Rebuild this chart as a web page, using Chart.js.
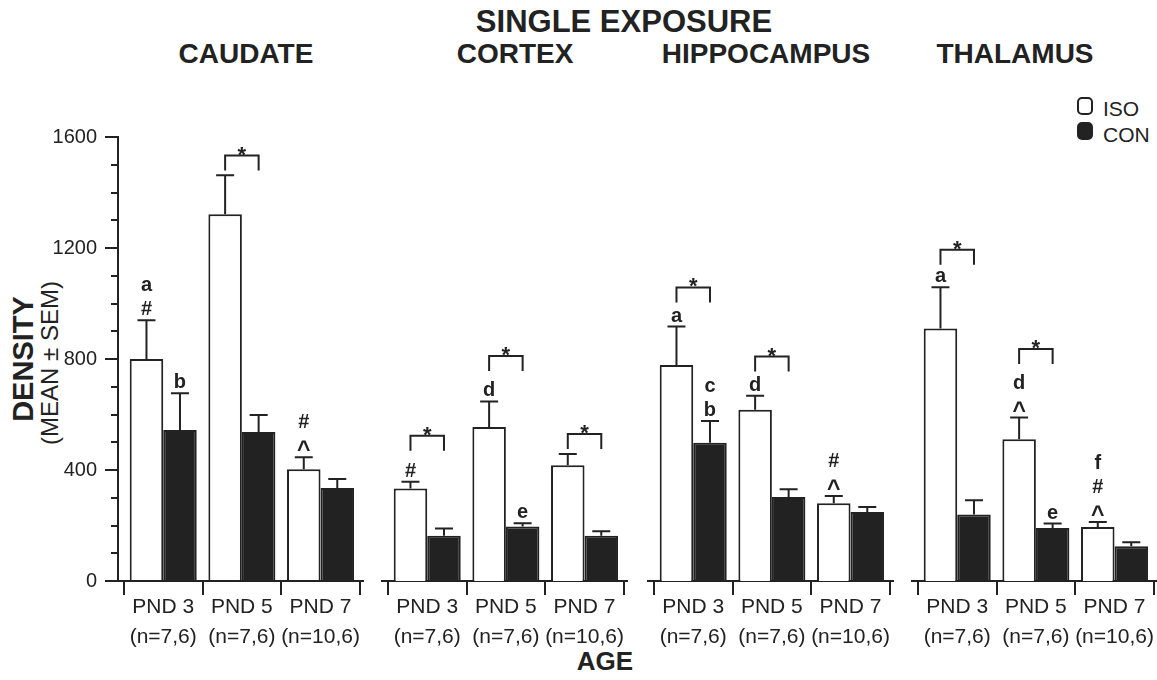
<!DOCTYPE html>
<html>
<head>
<meta charset="utf-8">
<script src="https://cdn.jsdelivr.net/npm/chart.js@4.4.1/dist/chart.umd.min.js"></script>
<style>
  html, body { margin: 0; padding: 0; background: #fff; }
  body { width: 1157px; height: 680px; position: relative; overflow: hidden;
         font-family: 'Liberation Sans', Arial, Helvetica, sans-serif; color: #222; }
  canvas { position: absolute; top: 0; }
  .t { position: absolute; transform: translate(-50%, -50%); white-space: nowrap; line-height: 1; font-weight: bold; }
  .rot { transform: translate(-50%, -50%) rotate(-90deg); }
  .box { position: absolute; box-sizing: border-box; width: 16px; height: 18px; border: 2px solid #222; border-radius: 5px; }
  .leg { position: absolute; font-size: 21px; line-height: 1; transform: translateY(-50%); }
</style>
</head>
<body>
<div class="t" style="left:624px;top:21px;font-size:31px">SINGLE EXPOSURE</div>
<div class="t" style="left:246px;top:54px;font-size:28px">CAUDATE</div>
<div class="t" style="left:515px;top:54px;font-size:28px">CORTEX</div>
<div class="t" style="left:766px;top:54px;font-size:28px">HIPPOCAMPUS</div>
<div class="t" style="left:1015px;top:54px;font-size:28px">THALAMUS</div>
<div class="t rot" style="left:23px;top:359px;font-size:29px">DENSITY</div>
<div class="t rot" style="left:50px;top:363px;font-size:24px;font-weight:normal">(MEAN ± SEM)</div>
<div class="t" style="left:605px;top:661px;font-size:26px">AGE</div>
<div class="box" style="left:1077px;top:97px;background:#fff"></div>
<div class="leg" style="left:1103px;top:108px">ISO</div>
<div class="box" style="left:1077px;top:122px;background:#222"></div>
<div class="leg" style="left:1103px;top:134px">CON</div>

<script>
// ---- data ----
var regions = ['CAUDATE', 'CORTEX', 'HIPPOCAMPUS', 'THALAMUS'];
var ages = ['PND 3', 'PND 5', 'PND 7'];
var nSizes = ['(n=7,6)', '(n=7,6)', '(n=10,6)'];

var isoMean = [[800, 1322, 403], [333, 555, 417], [778, 617, 280], [910, 511, 195]];
var isoSem  = [[140, 140, 43],   [25, 92, 41],    [139, 51, 26],   [149, 78, 18]];
var conMean = [[544, 537, 335],  [163, 196, 163], [498, 303, 249], [240, 191, 125]];
var conSem  = [[133, 61, 33],    [26, 12, 16],    [79, 28, 18],    [51, 16, 15]];

// significance letters above each bar, listed bottom -> top
var isoMarks = [[['#', 'a'], [], ['^', '#']], [['#'], ['d'], []], [['a'], ['d'], ['^', '#']], [['a'], ['^', 'd'], ['^', '#', 'f']]];
var conMarks = [[['b'], [], []], [[], ['e'], []], [['b', 'c'], [], []], [[], ['e'], []]];
// ISO vs CON bracket (*) height, null = none
var starTop = [[null, 1533, null], [523, 811, 530], [1058, 809, null], [1194, 836, null]];

var yMax = 1600, yMajor = 400, yMinor = 100;

// ---- layout ----
var INK = '#222';
var AREA_TOP = 137, AREA_BOTTOM = 581, AREA_W = 245, H = 680;
var panelLeft = [118, 382, 648, 912];
var X_MIN = -0.575, X_MAX = 2.54;
var CAP = 9;

Chart.defaults.font.family = "'Liberation Sans', Arial, Helvetica, sans-serif";
Chart.defaults.color = INK;

function glyph(ctx, s, x, base) {
  if (s === '^') {
    ctx.font = 'bold 23px ' + Chart.defaults.font.family;
    ctx.fillText(s, x, base + 5);
  } else {
    ctx.font = 'bold 20px ' + Chart.defaults.font.family;
    ctx.fillText(s, x, base);
  }
}

var panelMarks = {
  id: 'panelMarks',
  afterDatasetsDraw: function (chart, args, opts) {
    var p = opts.panel, ctx = chart.ctx, y = chart.scales.y;
    var means = [isoMean[p], conMean[p]], sems = [isoSem[p], conSem[p]], marks = [isoMarks[p], conMarks[p]];
    ctx.save();
    ctx.strokeStyle = INK; ctx.fillStyle = INK; ctx.lineWidth = 2;
    ctx.textAlign = 'center'; ctx.textBaseline = 'alphabetic';
    [0, 1].forEach(function (d) {
      chart.getDatasetMeta(d).data.forEach(function (bar, i) {
        var top = y.getPixelForValue(means[d][i] + sems[d][i]);
        ctx.beginPath();
        ctx.moveTo(bar.x, bar.y); ctx.lineTo(bar.x, top);
        ctx.moveTo(bar.x - CAP, top); ctx.lineTo(bar.x + CAP, top);
        ctx.stroke();
        marks[d][i].forEach(function (m, k) { glyph(ctx, m, bar.x, top - 5 - k * 24); });
      });
    });
    var a = chart.getDatasetMeta(0).data, b = chart.getDatasetMeta(1).data;
    starTop[p].forEach(function (v, i) {
      if (v == null) return;
      var yy = y.getPixelForValue(v);
      ctx.beginPath();
      ctx.moveTo(a[i].x, yy + 15); ctx.lineTo(a[i].x, yy); ctx.lineTo(b[i].x, yy); ctx.lineTo(b[i].x, yy + 15);
      ctx.stroke();
      ctx.font = 'bold 22px ' + Chart.defaults.font.family;
      ctx.fillText('*', (a[i].x + b[i].x) / 2, yy + 6);
    });
    // minor y ticks on the first panel
    if (p === 0) {
      var x0 = chart.chartArea.left;
      ctx.beginPath();
      for (var v = 0; v <= yMax; v += yMinor) {
        if (v % yMajor === 0) continue;
        var py = Math.round(y.getPixelForValue(v));
        ctx.moveTo(x0 - 7, py); ctx.lineTo(x0, py);
      }
      ctx.stroke();
    }
    ctx.restore();
  }
};

function makePanel(p) {
  var first = p === 0;
  var padL = first ? 0 : 10;
  var c = document.createElement('canvas');
  c.width = (first ? panelLeft[0] : padL) + AREA_W + 10;
  c.height = H;
  c.style.left = (first ? 0 : panelLeft[p] - padL) + 'px';
  document.body.appendChild(c);

  new Chart(c, {
    type: 'bar',
    data: {
      datasets: [
        { label: 'ISO', data: isoMean[p].map(function (v, i) { return { x: i, y: v }; }),
          backgroundColor: '#fff', borderColor: INK, borderWidth: 2 },
        { label: 'CON', data: conMean[p].map(function (v, i) { return { x: i, y: v }; }),
          backgroundColor: INK, borderColor: INK, borderWidth: 2 }
      ]
    },
    options: {
      responsive: false, animation: false, events: [],
      categoryPercentage: 0.852, barPercentage: 1,
      layout: { padding: { top: AREA_TOP, left: padL, right: 10, bottom: 0 } },
      plugins: { legend: { display: false }, tooltip: { enabled: false }, panelMarks: { panel: p } },
      scales: {
        x: {
          type: 'linear', min: X_MIN, max: X_MAX, offset: false,
          afterBuildTicks: function (s) { s.ticks = [0, 1, 2].map(function (v) { return { value: v }; }); },
          afterFit: function (s) { s.height = H - AREA_BOTTOM; },
          ticks: { autoSkip: false, maxRotation: 0, padding: -2, color: INK,
                   font: { size: 21, lineHeight: 1.4 },
                   callback: function (v) { return [ages[v], nSizes[v]]; } },
          grid: { drawOnChartArea: false, tickLength: 14, color: INK, lineWidth: 2 },
          border: { display: true, color: INK, width: 2 }
        },
        y: {
          display: first, min: 0, max: yMax,
          afterFit: function (s) { s.width = first ? panelLeft[0] : 0; },
          ticks: { stepSize: yMinor, autoSkip: false, padding: 8, color: INK, font: { size: 20 },
                   callback: function (v) { return v % yMajor === 0 ? String(v) : ''; } },
          grid: { drawOnChartArea: false, tickLength: 13, lineWidth: 2,
                  tickColor: function (ctx) { return ctx.tick && ctx.tick.value % yMajor === 0 ? INK : 'rgba(0,0,0,0)'; } },
          border: { display: true, color: INK, width: 2 }
        }
      }
    },
    plugins: [panelMarks]
  });
}

regions.forEach(function (r, p) { makePanel(p); });
</script>
</body>
</html>
